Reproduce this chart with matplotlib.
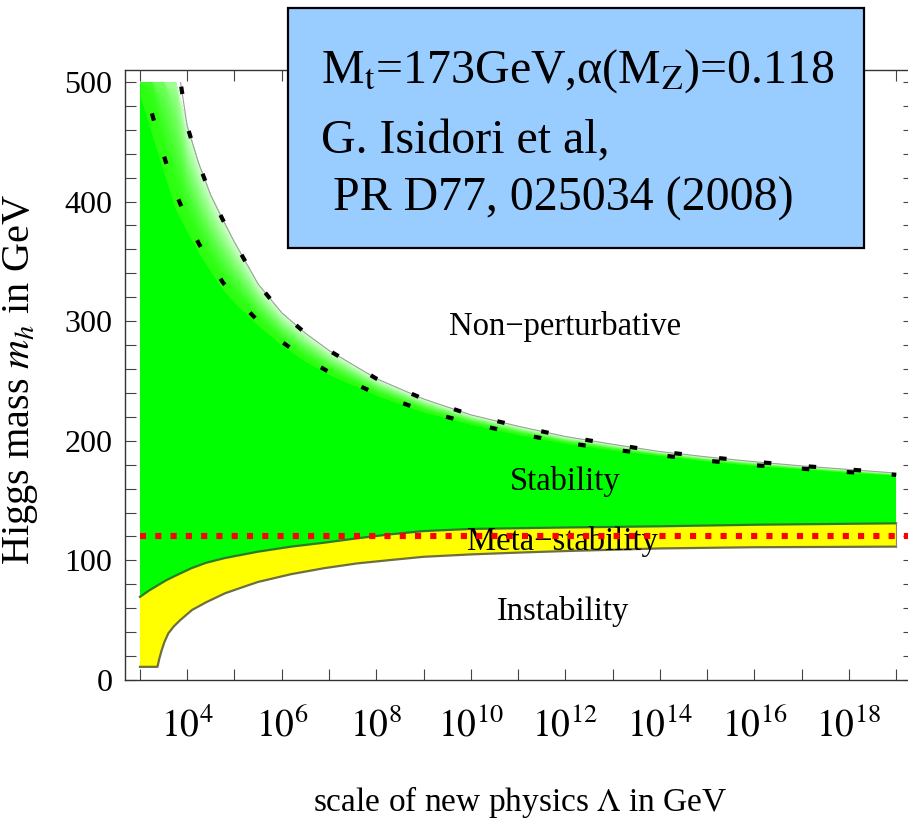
import numpy as np
import matplotlib
matplotlib.use("Agg")
import matplotlib.pyplot as plt
from matplotlib.patches import Rectangle
from matplotlib.colors import to_rgb

plt.rcParams['font.family'] = ['Liberation Serif', 'DejaVu Serif']
plt.rcParams['mathtext.fontset'] = 'stix'

# ---------------------------------------------------------------- data
# log10 of the scale Lambda (GeV) and Higgs mass bounds (GeV)

# perturbativity band (inner / outer edge)
lam_pert = [3.0, 3.25, 3.5, 3.75, 4.0, 4.25, 4.5, 4.75, 5.0, 5.5, 6.0, 6.5, 7.0,
            8.0, 9.0, 10.0, 11.0, 12.0, 13.0, 14.0, 15.0, 16.0, 17.0, 18.0, 19.0]
m_pert_in = [510, 474, 439, 408, 384, 364.5, 348, 332.6, 320.8, 300, 282.8, 268.8, 257.5,
             239.4, 225.2, 214.6, 205.9, 198.5, 192.7, 188, 183.4, 179.6, 176.7, 173.8, 171.5]
m_pert_out = [690, 620, 560, 528, 463, 431, 405, 385, 366, 331, 307, 290, 275.5,
              252, 235, 221.7, 212.2, 203.6, 197.1, 191, 186.5, 182.5, 179, 176, 173]

# stability bound (green / yellow border)
lam_stab = [3.0, 3.2, 3.39, 3.56, 3.74, 4.09, 4.4, 4.8, 5.5, 6.2, 6.9, 7.6, 8.3, 9.0,
            10.0, 12.0, 14.0, 16.0, 19.0]
m_stab = [69.5, 75, 79.5, 83.5, 87, 93.5, 98, 102, 107.3, 111.5, 114.8, 118.5, 121.8,
          124.5, 126.3, 127.5, 128.5, 129.8, 131]

# meta-stability bound (yellow / white border)
lam_meta = [3.0, 3.37, 3.41, 3.46, 3.52, 3.6, 3.72, 3.85, 4.1, 4.4, 4.8, 5.2, 5.5, 6.2,
            6.9, 7.6, 8.3, 9.0, 10.0, 11.0, 12.0, 14.0, 16.0, 19.0]
m_meta = [11, 11, 18, 25, 32, 39, 45, 50, 58.5, 65, 72.5, 78, 82, 88.5, 93.5, 97.5,
          100.3, 103, 105, 106.5, 107.8, 110, 111, 111.5]

m_ref = 120          # red dotted line
m_top = 500          # region cut

xt_exp = list(range(3, 20))
xt_labels = [r"$10^{%d}$" % e if e % 2 == 0 else "" for e in xt_exp]
yt_major = [0, 100, 200, 300, 400, 500]
yt_minor = list(range(0, 520, 20))

# ---------------------------------------------------------------- figure
fig = plt.figure(figsize=(9.08, 8.22), dpi=100)
ax = fig.add_axes([125/908, (822-680)/822, (914-125)/908, (680-70)/822])
ax.set_xscale('log')

xp = 10.0**np.array(lam_pert)
p_in = np.array(m_pert_in, float)
p_out = np.array(m_pert_out, float)
xs = 10.0**np.array(lam_stab)
xm = 10.0**np.array(lam_meta)

# pure green: stability bound up to the perturbativity edge
ax.fill(np.concatenate([xs, xp[::-1]]),
        np.concatenate([m_stab, np.minimum(p_out, m_top)[::-1]]),
        color="#00ff00", lw=0, zorder=1)
# lighter band towards the outer perturbativity edge (overlapping layers, no seams)
band0 = np.array(to_rgb("#2cff10"))
white = np.array([0.95, 1.0, 0.95])
fracs = np.linspace(-0.12, 0.97, 22)
for f in fracs:
  lo = np.minimum(p_in + f*(p_out - p_in), m_top)
  t = 0.0 if f <= 0 else 0.9*f**1.3
  c = band0*(1-t) + white*t
  ax.fill_between(xp, lo, np.minimum(p_out, m_top), color=c, lw=0, zorder=1)

# yellow meta-stability region
ax.fill(np.concatenate([xm, xs[::-1]]), np.concatenate([m_meta, m_stab[::-1]]),
        color="#ffff00", lw=0, zorder=1)
ax.plot(xs, m_stab, color="#2a7a2a", lw=1.6, zorder=2)
ax.plot(xm, m_meta, color="#6e6e40", lw=1.6, zorder=2)
ax.plot([xm[-1], xm[-1]], [m_meta[-1], m_stab[-1]], color="#888866", lw=0.8, zorder=2)

clip = Rectangle((1e2, -10), 1e20, m_top + 10, transform=ax.transData)
edge, = ax.plot(xp, m_pert_out, color="#a0a0a0", lw=0.8, zorder=2)
edge.set_clip_path(clip)
for m in (m_pert_in, m_pert_out):
  ln, = ax.plot(xp, m, color="black", lw=3.0, ls=(0, (1.8, 9.0)), zorder=3)
  ln.set_clip_path(clip)

ax.plot([1e3, 10**19.4], [m_ref, m_ref], color="#ff0000", lw=4.4,
        ls=(0, (1.0, 1.5)), dash_capstyle='butt', zorder=5)

# region labels
lab_kw = dict(ha="center", va="baseline", fontsize=23.5, zorder=4)
ax.text(10**12.0, 288.5, "Non\u2212perturbative", **lab_kw)
ax.text(10**12.0, 158.9, "Stability", **lab_kw)
ax.text(10**11.95, 108.7, "Meta\u2212stability", **lab_kw)
ax.text(10**11.95, 50.2, "Instability", **lab_kw)

# axes
ax.set_xlim(10**2.683, 10**19.38)
ax.set_ylim(0, 510)
ax.set_xticks([10.0**e for e in xt_exp])
ax.set_xticklabels(xt_labels)
ax.xaxis.set_minor_locator(matplotlib.ticker.NullLocator())
ax.set_yticks(yt_major)
ax.set_yticklabels([str(v) for v in yt_major])
ax.set_yticks(yt_minor, minor=True)
ax.tick_params(which='both', direction='in', length=8, width=0.8, color="#444444",
               top=True, right=True)
ax.tick_params(axis='x', labelsize=27, pad=20)
ax.tick_params(axis='y', labelsize=23, pad=9)
for s in ax.spines.values():
  s.set_linewidth(1.0)
  s.set_color("#333333")

fig.text(520/908, 1-802/822, r"scale of new physics $\Lambda$ in GeV", fontsize=24,
         ha="center", va="center")
fig.text(21/908, 1-380/822, r"Higgs mass $m_h$ in GeV", fontsize=29,
         rotation=90, ha="center", va="center")

# info box
fig.patches.append(Rectangle((288/908, 1-248/822), (864-288)/908, (248-8)/822,
                             transform=fig.transFigure, facecolor="#99ccff",
                             edgecolor="black", lw=1.6, zorder=10))
box_kw = dict(fontsize=34.5, ha="left", va="baseline", zorder=11)
fig.text(321/908, 1-83/822, r"M$_\mathrm{t}$=173GeV,α(M$_\mathrm{Z}$)=0.118", **box_kw)
fig.text(321/908, 1-153/822, "G. Isidori et al,", **box_kw)
fig.text(321/908, 1-211/822, " PR D77, 025034 (2008)", **box_kw)

fig.savefig("out.png", dpi=100)
